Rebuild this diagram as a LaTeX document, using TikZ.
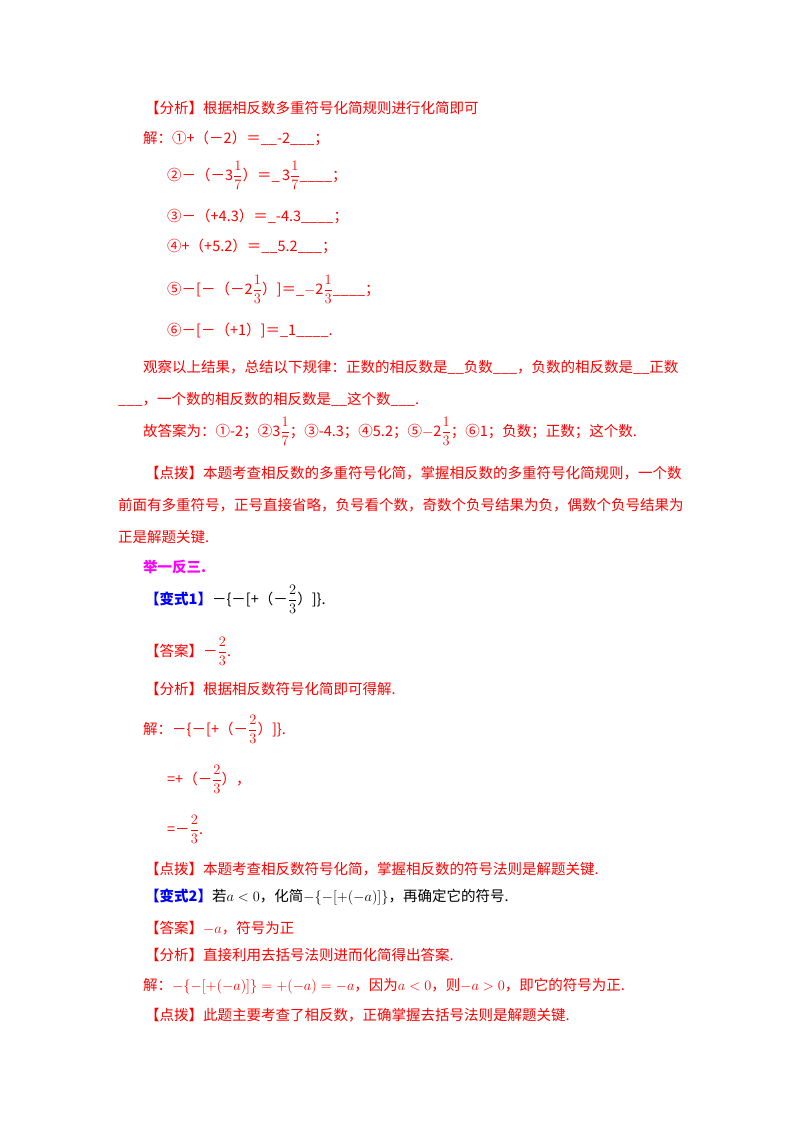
\documentclass[tikz,border=0pt]{standalone}
\usepackage{amsmath}
\usepackage{fontspec}
\newfontfamily\cjk{Noto Sans CJK SC}
\definecolor{rd}{HTML}{FF0000}
\definecolor{bl}{HTML}{0000FF}
\definecolor{mg}{HTML}{FF00FF}
\tikzset{t/.style={anchor=base west,inner sep=0pt,text=rd,font=\cjk\fontsize{14.5}{15}\selectfont},
 k/.style={t,text=black}}
\newcommand{\fr}[2]{\ensuremath{\dfrac{#1}{#2}}}
\begin{document}
\begin{tikzpicture}[x=1pt,y={(0,-1pt)}]
\useasboundingbox[fill=white] (0,0) rectangle (800,1132);
\node[t] (l1) at (145,113) {【分析】根据相反数多重符号化简规则进行化简即可};
\node[t] (l2) at (143,143) {解：①+（－2）＝\_\_-2\_\_\_；};
\node[t] (l3) at (167,180) {②－（－3\fr17）＝\_\,3\fr17\_\_\_\_；};
\node[t] (l4) at (167,221) {③－（+4.3）＝\_-4.3\_\_\_\_；};
\node[t] (l5) at (167,251) {④+（+5.2）＝\_\_5.2\_\_\_；};
\node[t] (l6) at (167,294) {⑤－[－（－2\fr13）]＝\_$-$2\fr13\_\_\_\_；};
\node[t] (l7) at (167,335) {⑥－[－（+1）]＝\_1\_\_\_\_.};
\node[t] (l8) at (143,372) {观察以上结果，总结以下规律：正数的相反数是\_\_负数\_\_\_，负数的相反数是\_\_正数};
\node[t] (l9) at (118,404) {\_\_\_，一个数的相反数的相反数是\_\_这个数\_\_\_.};
\node[t] (l10) at (143,436) {故答案为：①-2；②3\fr17；③-4.3；④5.2；⑤$-$2\fr13；⑥1；负数；正数；这个数.};
\node[t] (l11) at (145,478) {【点拨】本题考查相反数的多重符号化简，掌握相反数的多重符号化简规则，一个数};
\node[t] (l12) at (118,510) {前面有多重符号，正号直接省略，负号看个数，奇数个负号结果为负，偶数个负号结果为};
\node[t] (l13) at (118,542) {正是解题关键.};
\node[t,text=mg,font=\cjk\bfseries\fontsize{14.5}{15}\selectfont] (l14) at (143,572) {举一反三.};
\node[k] (l15) at (145,604) {\textcolor{bl}{\bfseries【变式1】}－\{－[+（－\fr23）]\}.};
\node[t] (l16) at (145,656) {【答案】－\fr23.};
\node[t] (l17) at (145,694) {【分析】根据相反数符号化简即可得解.};
\node[t] (l18) at (143,734) {解：－\{－[+（－\fr23）]\}.};
\node[t] (l19) at (167,784) {=+（－\fr23），};
\node[t] (l20) at (167,834) {=－\fr23.};
\node[t] (l21) at (145,874) {【点拨】本题考查相反数符号化简，掌握相反数的符号法则是解题关键.};
\node[k] (l22) at (145,901) {\textcolor{bl}{\bfseries【变式2】}若$a<0$，化简$-\{-[+(-a)]\}$，再确定它的符号.};
\node[t] (l23) at (145,933) {【答案】$-a$，符号为正};
\node[t] (l24) at (145,960) {【分析】直接利用去括号法则进而化简得出答案.};
\node[t] (l25) at (143,990) {解：$-\{-[+(-a)]\}=+(-a)=-a$，因为$a<0$，则$-a>0$，即它的符号为正.};
\node[t] (l26) at (145,1020) {【点拨】此题主要考查了相反数，正确掌握去括号法则是解题关键.};
\end{tikzpicture}
\end{document}
